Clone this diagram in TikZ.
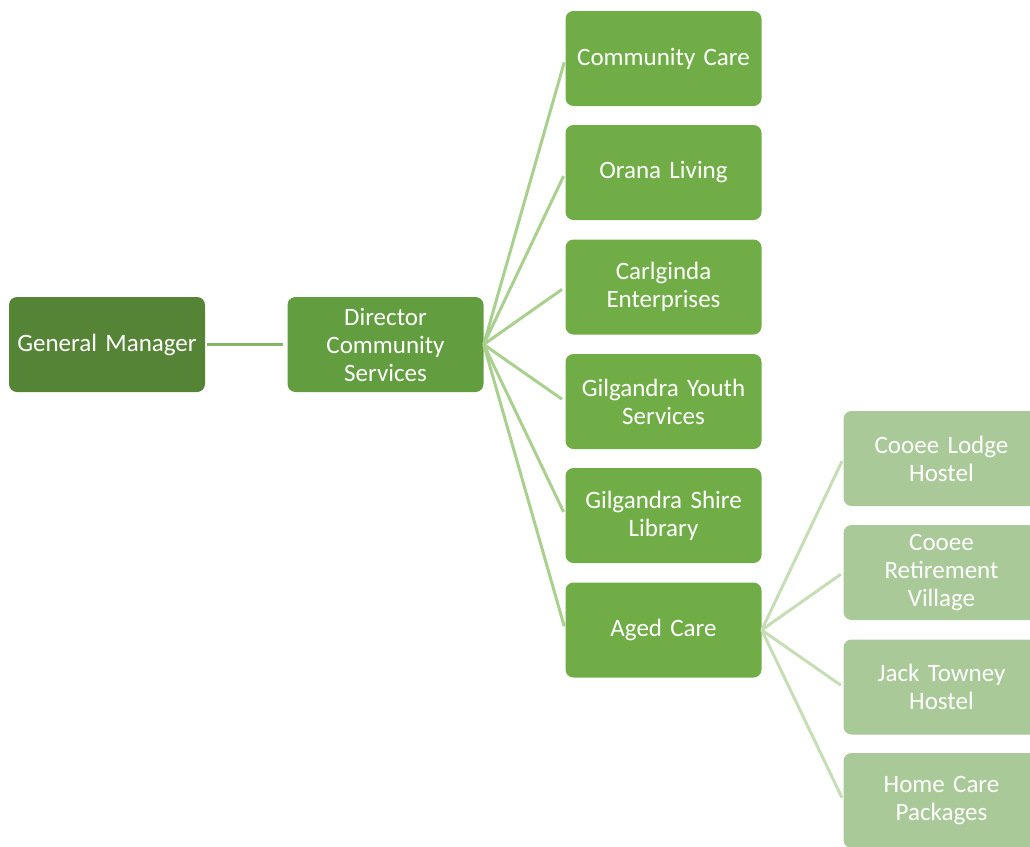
\documentclass[tikz,border=0pt]{standalone}
\usepackage{fontspec}
\setmainfont{Carlito}
\definecolor{gmgreen}{HTML}{558436}
\definecolor{dirgreen}{HTML}{629D3F}
\definecolor{lvtwo}{HTML}{70AD47}
\definecolor{lvthree}{HTML}{A9CA98}
\definecolor{lineA}{HTML}{86B566}
\definecolor{lineB}{HTML}{A9D08E}
\definecolor{lineC}{HTML}{C6DDB6}
\tikzset{
  box/.style={rounded corners=8pt, minimum width=196pt, minimum height=95pt,
    text width=192pt, align=center, text=white, inner sep=0pt,
    font=\fontsize{25}{28}\selectfont},
  gmbox/.style={box, fill=gmgreen},
  dirbox/.style={box, fill=dirgreen},
  twobox/.style={box, fill=lvtwo},
  threebox/.style={box, fill=lvthree},
  conA/.style={draw=lineA, line width=3pt},
  conB/.style={draw=lineB, line width=3pt},
  conC/.style={draw=lineC, line width=3pt},
}
\begin{document}
\begin{tikzpicture}[x=1pt,y=-1pt]
\useasboundingbox (0,0) rectangle (1030,846);
\clip (0,0) rectangle (1030,846);
\node[gmbox] (gm) at (107,344.5) {\raisebox{-2pt}{General Manager}};
\node[dirbox] (dir) at (385.5,344.5) {\raisebox{-2pt}{\parbox{192pt}{\centering Director\\Community\\Services}}};
\node[twobox] (cc) at (663.5,58.5) {\raisebox{-2pt}{Community Care}};
\node[twobox] (ol) at (663.5,172.5) {\raisebox{-2pt}{Orana Living}};
\node[twobox] (ce) at (663.5,287) {\raisebox{-2pt}{\parbox{192pt}{\centering Carlginda\\Enterprises}}};
\node[twobox] (gy) at (663.5,401.5) {\raisebox{-2pt}{\parbox{192pt}{\centering Gilgandra Youth\\Services}}};
\node[twobox] (gl) at (663.5,515.5) {\raisebox{-2pt}{\parbox{192pt}{\centering Gilgandra Shire\\Library}}};
\node[twobox] (ac) at (663.5,630) {\raisebox{-2pt}{Aged Care}};
\node[threebox] (cl) at (941.5,458.5) {\raisebox{-2pt}{\parbox{192pt}{\centering Cooee Lodge\\Hostel}}};
\node[threebox] (cr) at (941.5,572.5) {\raisebox{-2pt}{\parbox{192pt}{\centering Cooee\\Retirement\\Village}}};
\node[threebox] (jt) at (941.5,687) {\raisebox{-2pt}{\parbox{192pt}{\centering Jack Towney\\Hostel}}};
\node[threebox] (hc) at (941.5,800.5) {\raisebox{-2pt}{\parbox{192pt}{\centering Home Care\\Packages}}};
\draw[conA, shorten <=2pt, shorten >=4pt] (gm.east) -- (dir.west);
\foreach \t in {cc,ol,ce,gy,gl,ac}
  \draw[conB, shorten >=4pt] (dir.east) -- (\t.west);
\foreach \t in {cl,cr,jt,hc}
  \draw[conC, shorten >=3pt] (ac.east) -- (\t.west);
\end{tikzpicture}
\end{document}
